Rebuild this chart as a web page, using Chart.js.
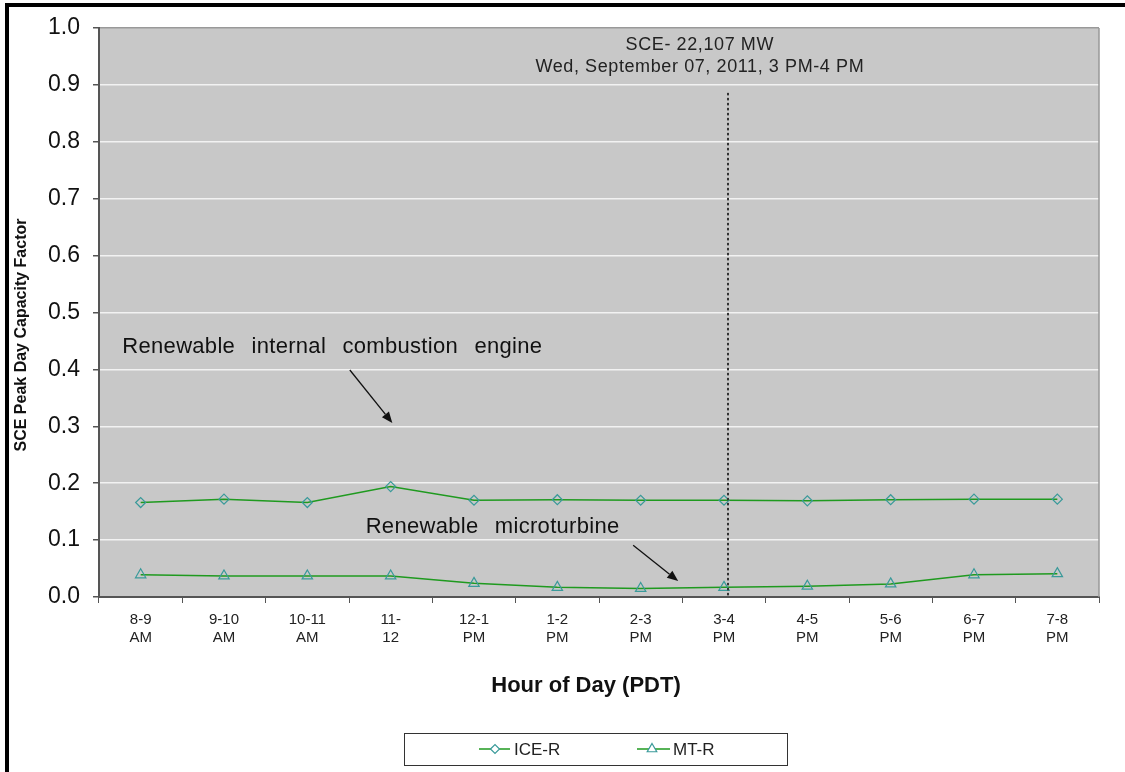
<!DOCTYPE html>
<html>
<head>
<meta charset="utf-8">
<script src="https://cdn.jsdelivr.net/npm/chart.js@4/dist/chart.umd.min.js"></script>
<style>
  html, body { margin: 0; padding: 0; background: #fff; }
  #wrap { width: 1125px; height: 772px; position: relative; }
</style>
</head>
<body>
<div id="wrap"><canvas id="c" width="1125" height="772"></canvas></div>
<script>
// ---- data ----
const categories = [
  ["8-9", "AM"], ["9-10", "AM"], ["10-11", "AM"], ["11-", "12"],
  ["12-1", "PM"], ["1-2", "PM"], ["2-3", "PM"], ["3-4", "PM"],
  ["4-5", "PM"], ["5-6", "PM"], ["6-7", "PM"], ["7-8", "PM"]
];
const iceR = [0.166, 0.172, 0.166, 0.194, 0.170, 0.171, 0.170, 0.170, 0.169, 0.171, 0.172, 0.172];
const mtR  = [0.039, 0.037, 0.037, 0.037, 0.024, 0.017, 0.015, 0.017, 0.019, 0.023, 0.039, 0.041];
const seriesNames = ["ICE-R", "MT-R"];
const yTicks = { min: 0, max: 1.0, step: 0.1 };
const peakLabel = ["SCE- 22,107 MW", "Wed, September 07, 2011, 3 PM-4 PM"];
const peakIndex = 7;
const iceNote = "Renewable internal combustion engine";
const mtNote = "Renewable microturbine";
const xTitle = "Hour of Day (PDT)";
const yTitle = "SCE Peak Day Capacity Factor";

const FONT = '"Liberation Sans", Arial, sans-serif';
const LINE_GREEN = '#1f9a1f';
const MARK_TEAL = '#3a9a9a';

function arrow(ctx, x1, y1, x2, y2) {
  const ang = Math.atan2(y2 - y1, x2 - x1);
  const hl = 11, hw = 4.5;
  const bx = x2 - hl * Math.cos(ang), by = y2 - hl * Math.sin(ang);
  ctx.save();
  ctx.strokeStyle = '#111'; ctx.fillStyle = '#111'; ctx.lineWidth = 1.3;
  ctx.beginPath(); ctx.moveTo(x1, y1); ctx.lineTo(bx, by); ctx.stroke();
  ctx.beginPath();
  ctx.moveTo(x2, y2);
  ctx.lineTo(bx + hw * Math.sin(ang), by - hw * Math.cos(ang));
  ctx.lineTo(bx - hw * Math.sin(ang), by + hw * Math.cos(ang));
  ctx.closePath(); ctx.fill();
  ctx.restore();
}

function setSpacing(ctx, ls, ws) {
  if ('letterSpacing' in ctx) ctx.letterSpacing = ls;
  if ('wordSpacing' in ctx) ctx.wordSpacing = ws;
}

const decor = {
  id: 'decor',
  beforeDraw(chart) {
    const ctx = chart.ctx, a = chart.chartArea;
    ctx.save();
    ctx.fillStyle = '#fff'; ctx.fillRect(0, 0, chart.width, chart.height);
    ctx.fillStyle = '#000';
    ctx.fillRect(5, 3, chart.width - 5, 4);
    ctx.fillRect(5, 3, 4, chart.height - 3);
    ctx.fillStyle = '#c8c8c8';
    ctx.fillRect(a.left, a.top, a.right - a.left, a.bottom - a.top);
    ctx.restore();
  },
  afterDatasetsDraw(chart) {
    const ctx = chart.ctx, a = chart.chartArea;
    const xs = chart.scales.x, ys = chart.scales.y;
    ctx.save();
    // right border of plot
    ctx.strokeStyle = '#999'; ctx.lineWidth = 1.5;
    ctx.beginPath(); ctx.moveTo(a.right, a.top); ctx.lineTo(a.right, a.bottom); ctx.stroke();
    // dotted peak line
    const px = Math.round(xs.getPixelForValue(peakIndex + 0.05));
    ctx.fillStyle = '#333';
    const yTop = ys.getPixelForValue(0.886);
    for (let y = yTop; y < a.bottom; y += 5) ctx.fillRect(px - 1, y, 2, 2.5);
    // peak label
    ctx.fillStyle = '#222';
    ctx.font = '18px ' + FONT;
    setSpacing(ctx, '0.6px', '0px');
    ctx.textAlign = 'center'; ctx.textBaseline = 'middle';
    const lx = xs.getPixelForValue(6.71);
    ctx.fillText(peakLabel[0], lx, ys.getPixelForValue(0.970));
    ctx.fillText(peakLabel[1], lx, ys.getPixelForValue(0.931));
    // notes
    ctx.fillStyle = '#111';
    ctx.font = '22px ' + FONT;
    setSpacing(ctx, '0.3px', '10px');
    ctx.textAlign = 'left';
    ctx.fillText(iceNote, xs.getPixelForValue(-0.22), ys.getPixelForValue(0.439));
    ctx.fillText(mtNote, xs.getPixelForValue(2.70), ys.getPixelForValue(0.123));
    setSpacing(ctx, '0px', '0px');
    arrow(ctx, xs.getPixelForValue(2.51), ys.getPixelForValue(0.399), xs.getPixelForValue(3.02), ys.getPixelForValue(0.306));
    arrow(ctx, xs.getPixelForValue(5.91), ys.getPixelForValue(0.091), xs.getPixelForValue(6.45), ys.getPixelForValue(0.028));
    ctx.restore();
  },
  afterDraw(chart) {
    const ctx = chart.ctx;
    // x title
    ctx.save();
    ctx.fillStyle = '#111';
    ctx.font = 'bold 22px ' + FONT;
    ctx.textAlign = 'center'; ctx.textBaseline = 'middle';
    ctx.fillText(xTitle, 586, 686);
    ctx.restore();
    // y title
    ctx.save();
    ctx.fillStyle = '#111';
    ctx.font = 'bold 16px ' + FONT;
    ctx.translate(22, 335); ctx.rotate(-Math.PI / 2);
    ctx.textAlign = 'center'; ctx.textBaseline = 'middle';
    ctx.fillText(yTitle, 0, 0);
    ctx.restore();
    // legend
    ctx.save();
    ctx.strokeStyle = '#333'; ctx.lineWidth = 1;
    ctx.strokeRect(404.5, 733.5, 383, 32);
    const ly = 749;
    const items = [
      { x0: 479, x1: 510, mx: 495, tx: 514, style: 'rectRot', r: 4.5 },
      { x0: 637, x1: 670, mx: 652, tx: 673, style: 'triangle', r: 5.5 }
    ];
    items.forEach((it, i) => {
      ctx.strokeStyle = LINE_GREEN; ctx.lineWidth = 1.5;
      ctx.beginPath(); ctx.moveTo(it.x0, ly); ctx.lineTo(it.x1, ly); ctx.stroke();
      ctx.fillStyle = '#fff';
      ctx.strokeStyle = MARK_TEAL; ctx.lineWidth = 1.2;
      Chart.helpers.drawPoint(ctx, { pointStyle: it.style, radius: it.r, rotation: 0, borderWidth: 1.2 }, it.mx, ly);
      ctx.fillStyle = '#222';
      ctx.font = '17px ' + FONT;
      ctx.textAlign = 'left'; ctx.textBaseline = 'middle';
      ctx.fillText(seriesNames[i], it.tx, ly + 1);
    });
    ctx.restore();
  }
};

new Chart(document.getElementById('c'), {
  type: 'line',
  data: {
    labels: categories,
    datasets: [
      {
        label: seriesNames[0], data: iceR,
        borderColor: LINE_GREEN, borderWidth: 1.5, tension: 0,
        pointStyle: 'rectRot', pointRadius: 5, pointHoverRadius: 5,
        pointBorderColor: MARK_TEAL, pointBackgroundColor: 'rgba(0,0,0,0)', pointBorderWidth: 1.2
      },
      {
        label: seriesNames[1], data: mtR,
        borderColor: LINE_GREEN, borderWidth: 1.5, tension: 0,
        pointStyle: 'triangle', pointRadius: 6, pointHoverRadius: 6,
        pointBorderColor: MARK_TEAL, pointBackgroundColor: 'rgba(0,0,0,0)', pointBorderWidth: 1.2
      }
    ]
  },
  options: {
    responsive: false,
    devicePixelRatio: 1,
    animation: false,
    events: [],
    layout: { padding: { left: 0, top: 28, right: 26, bottom: 65 } },
    plugins: { legend: { display: false }, tooltip: { enabled: false }, title: { display: false } },
    scales: {
      x: {
        offset: true,
        afterFit(s) { s.height = 110; },
        grid: { display: true, drawOnChartArea: false, drawTicks: true, tickLength: 6, tickColor: '#555', offset: true },
        border: { display: true, color: '#555', width: 2 },
        ticks: { color: '#222', font: { family: FONT, size: 15 }, padding: 8, maxRotation: 0, autoSkip: false },
        title: { display: false }
      },
      y: {
        min: yTicks.min, max: yTicks.max,
        afterFit(s) { s.width = 99; },
        grid: {
          color: (c) => (c.tick && Math.abs(c.tick.value - 1) < 1e-6) ? '#999' : '#f2f2f2',
          lineWidth: 1.5, tickLength: 6, tickColor: '#555'
        },
        border: { display: true, color: '#555', width: 2 },
        ticks: {
          stepSize: yTicks.step, color: '#111', padding: 13,
          font: { family: FONT, size: 23 },
          callback: (v) => Number(v).toFixed(1)
        }
      }
    }
  },
  plugins: [decor]
});
</script>
</body>
</html>
